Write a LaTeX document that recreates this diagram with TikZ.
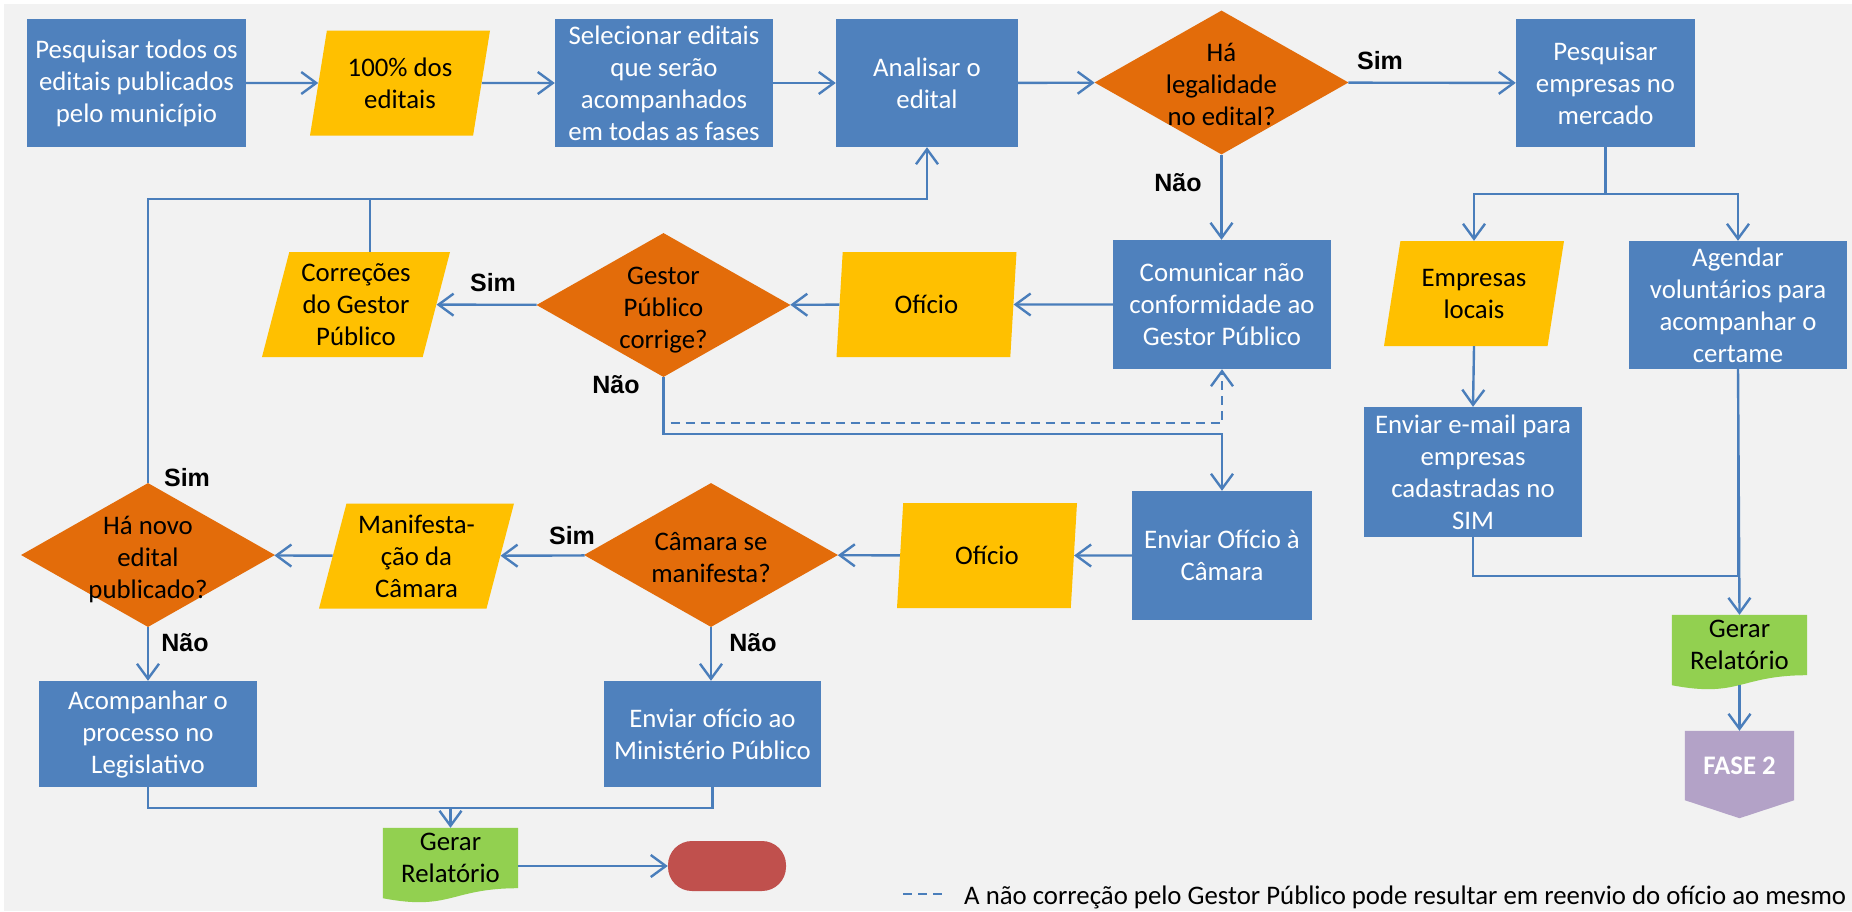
\documentclass[tikz,border=0pt]{standalone}
\usepackage{fontspec}
\setmainfont{Carlito}
\newfontfamily\answerfont{Liberation Sans}
\usetikzlibrary{positioning,arrows.meta,backgrounds,calc,shapes.geometric}
\definecolor{procblue}{RGB}{79,129,189}
\definecolor{lineblue}{RGB}{74,126,187}
\definecolor{askorange}{RGB}{227,108,10}
\definecolor{dataamber}{RGB}{255,192,0}
\definecolor{reportgreen}{RGB}{146,208,80}
\definecolor{phaselilac}{RGB}{179,162,199}
\definecolor{endred}{RGB}{192,80,77}
\definecolor{paper}{RGB}{242,242,242}
\tikzset{%
  base/.style={inner sep=0pt, align=center, font=\fontsize{26.8}{32}\selectfont},
  process/.style={base, rectangle, fill=procblue, text=white},% blue action box
  decision/.style={base, diamond, fill=askorange, minimum width=254pt, minimum height=144pt},% question
  data/.style={base, trapezium, trapezium left angle=71.6, trapezium right angle=108.4,
    trapezium stretches body, fill=dataamber, minimum width=180pt, minimum height=105pt},% document in/out
  report/.style={base, rectangle, minimum width=135pt, minimum height=60pt},% wavy bottom drawn behind
  answer/.style={font=\answerfont\bfseries\fontsize{25}{30}\selectfont},% Sim / Nao
  flow/.style={draw=lineblue, line width=2.4pt, ->},
  link/.style={draw=lineblue, line width=2.4pt},
  >={Straight Barb[length=15pt,width=22pt]}
}
\newcommand*{\ask}[1]{\smash{\raisebox{-0.42em}{\begin{tabular}{@{}c@{}}#1\end{tabular}}}}

\begin{document}
\begin{tikzpicture}[x=1pt, y=-1pt]
\useasboundingbox (0,0) rectangle (1852,911);

% first row
\node[process, minimum width=219pt, minimum height=128pt] (p1) at (136.5,83) {Pesquisar todos os\\editais publicados\\pelo município};
\node[data] (d1) at (400,83) {100\% dos\\editais};
\node[process, minimum width=218pt, minimum height=128pt] (s1) at (664,83) {Selecionar editais\\que serão\\acompanhados\\em todas as fases};
\node[process, minimum width=182pt, minimum height=128pt] (a1) at (927,83) {Analisar o\\edital};
\node[decision] (q1) at (1221.5,82.5) {\ask{Há\\legalidade\\no edital?}};
\node[process, minimum width=179pt, minimum height=128pt] (m1) at (1605.5,83) {Pesquisar\\empresas no\\mercado};

% second row
\node[process, minimum width=218pt, minimum height=129pt] (c1) at (1222,304.5) {Comunicar não\\conformidade ao\\Gestor Público};
\node[data] (o1) at (926.5,304.5) {Ofício};
\node[decision] (q2) at (663.5,305) {\ask{Gestor\\Público\\corrige?}};
\node[data, minimum width=188pt] (k1) at (356,304.5) {Correções\\do Gestor\\Público};
\node[data] (e1) at (1474,293.5) {Empresas\\locais};
\node[process, minimum width=218pt, minimum height=128pt] (v1) at (1738,305) {Agendar\\voluntários para\\acompanhar o\\certame};
\node[process, minimum width=218pt, minimum height=130pt] (w1) at (1473,472) {Enviar e-mail para\\empresas\\cadastradas no\\SIM};

% third row
\node[process, minimum width=180pt, minimum height=129pt] (c2) at (1222,555.5) {Enviar Ofício à\\Câmara};
\node[data] (o2) at (987,555.5) {Ofício};
\node[decision] (q3) at (711,555) {\ask{Câmara se\\manifesta?}};
\node[data, minimum width=195pt] (k2) at (416.5,556) {Manifesta-\\ção da\\Câmara};
\node[decision] (q4) at (148,555) {\ask{Há novo\\edital\\publicado?}};
\node[process, minimum width=218pt, minimum height=106pt] (b1) at (148,734) {Acompanhar o\\processo no\\Legislativo};
\node[process, minimum width=217pt, minimum height=106pt] (b2) at (712.5,734) {Enviar ofício ao\\Ministério Público};

% reports and ends
\node[report] (g1) at (450.5,858) {Gerar\\Relatório};
\node[base, rectangle, rounded corners=24pt, fill=endred, minimum width=118pt, minimum height=50pt] (t1) at (727,866) {};
\node[report] (g2) at (1739.5,645) {Gerar\\Relatório};
\node[base, rectangle, minimum width=109pt, minimum height=69pt, text=white, font=\bfseries\fontsize{26.8}{32}\selectfont] (f2) at (1739.5,765.5) {FASE 2};

\begin{scope}[on background layer]
  \fill[white] (0,0) rectangle (1852,911);
  \fill[paper] (4,4) rectangle (1852,911);
  \fill[reportgreen] (g1.north west) -- (g1.north east) -- (g1.south east)
    .. controls (g1.south) and ($(g1.south)+(0,23)$) .. ($(g1.south west)+(0,10)$) -- cycle;
  \fill[reportgreen] (g2.north west) -- (g2.north east) -- (g2.south east)
    .. controls (g2.south) and ($(g2.south)+(0,23)$) .. ($(g2.south west)+(0,10)$) -- cycle;
  \fill[phaselilac] (f2.north west) -- (f2.north east) -- (f2.south east)
    -- ($(f2.south)+(0,18)$) -- (f2.south west) -- cycle;
\end{scope}

% answers
\node[answer] (sim1) at (1380,61) {Sim};
\node[answer] (nao1) at (1178,183) {Não};
\node[answer] (sim2) at (493,283) {Sim};
\node[answer] (nao2) at (616,385) {Não};
\node[answer] (sim3) at (187,478) {Sim};
\node[answer] (sim4) at (572,536) {Sim};
\node[answer] (nao3) at (185,643) {Não};
\node[answer] (nao4) at (753,643) {Não};

% connectors
\draw[flow] (p1) -- (d1);
\draw[flow] (d1) -- (s1);
\draw[flow] (s1) -- (a1);
\draw[flow] (a1) -- (q1);
\draw[flow] (q1) -- (m1);
\draw[flow] (q1.south) -- (q1.south |- c1.north);
\draw[flow] (c1) -- (o1);
\draw[flow] (o1) -- (q2);
\draw[flow] (q2) -- (k1);
\coordinate (turn) at (148,199);
\draw[flow] (q4.north) -- (turn) -| (a1.south);
\draw[link] (k1.top side) -- (k1.top side |- turn);
\draw[flow] (q2.south) -- ++(0,57) -| (c2.north);
\draw[flow, dash pattern=on 9pt off 6pt] ($(q2.south)+(7,46)$) -| (c1.south);
\draw[flow] (m1.south) -- ++(0,47) -| (e1.north);
\draw[flow] (m1.south) -- ++(0,47) -| (v1.north);
\draw[flow] (e1.south) -- (w1.north);
\draw[flow] (v1.south) -- (g2.north);
\draw[link] (w1.south) -- ++(0,39) -| (v1.south);
\draw[flow] ($(g2.south)+(0,10)$) -- (f2.north);
\draw[flow] (c2) -- (o2);
\draw[flow] (o2) -- (q3);
\draw[flow] (q3) -- (k2);
\draw[flow] (k2) -- (q4);
\draw[flow] (q4.south) -- (b1.north);
\draw[flow] (q3.south) -- (q3.south |- b2.north);
\draw[link] (b1.south) -- ++(0,21) coordinate (merge) -| (b2.south);
\draw[flow] (merge -| g1.north) -- (g1.north);
\draw[flow] (g1.east |- t1.west) -- (t1.west);

% key
\coordinate (keyA) at (903,894);
\coordinate (keyB) at (945,894);
\draw[link, dash pattern=on 9pt off 6pt] (keyA) -- (keyB);
\node[base, anchor=west] (note) at (964,897) {A não correção pelo Gestor Público pode resultar em reenvio do ofício ao mesmo};
\end{tikzpicture}
\end{document}
